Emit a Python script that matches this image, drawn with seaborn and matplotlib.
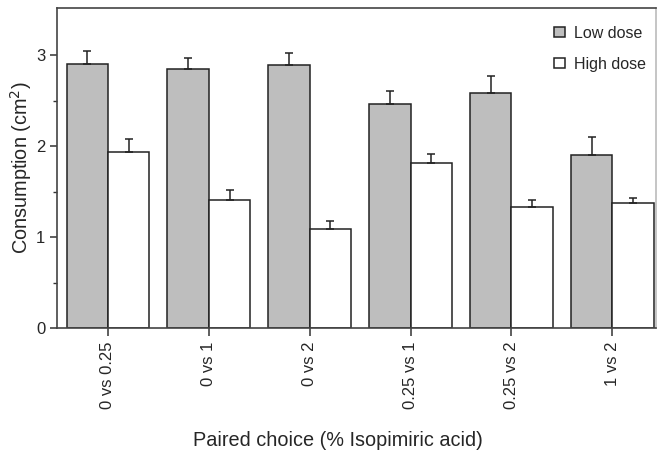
import pandas as pd
import matplotlib
matplotlib.use("Agg")
import matplotlib.pyplot as plt
import seaborn as sns

# values
pairs = ["0 vs 0.25", "0 vs 1", "0 vs 2", "0.25 vs 1", "0.25 vs 2", "1 vs 2"]
low_dose = [2.91, 2.85, 2.89, 2.46, 2.59, 1.90]
low_err = [0.14, 0.12, 0.14, 0.15, 0.18, 0.20]
high_dose = [1.94, 1.41, 1.09, 1.82, 1.33, 1.37]
high_err = [0.14, 0.11, 0.09, 0.09, 0.08, 0.06]
doses = ["Low dose", "High dose"]

df = pd.DataFrame({
    "pair": pairs * 2,
    "value": low_dose + high_dose,
    "dose": [doses[0]] * len(pairs) + [doses[1]] * len(pairs),
})

sns.set_style("ticks")
plt.rcParams["font.family"] = ["Liberation Sans", "DejaVu Sans"]

fig = plt.figure(figsize=(6.58, 4.53), dpi=100)
ax = fig.add_axes([0.0866, 0.276, 0.910, 0.706])

sns.barplot(data=df, x="pair", y="value", hue="dose", order=pairs, hue_order=doses,
            palette=["#bebebe", "white"], edgecolor="#222222", linewidth=1.1,
            width=0.82, errorbar=None, ax=ax)

# one-sided error bars on top of each bar
for cont, errs in zip(ax.containers, [low_err, high_err]):
    for bar, e in zip(cont, errs):
        xc = bar.get_x() + bar.get_width() / 2
        h = bar.get_height()
        ax.errorbar(xc, h, yerr=[[0], [e]], fmt="none", ecolor="#222222",
                    elinewidth=1.1, capsize=3, capthick=1.1)

ax.set_ylim(0, 3.52)
ax.set_xlim(-0.505, 5.43)
ax.set_yticks([0, 1, 2, 3])
ax.set_yticks([0.5, 1.5, 2.5], minor=True)
ax.tick_params(axis="both", which="major", labelsize=12, length=5, width=1.1, color="#333333")
ax.tick_params(axis="y", which="minor", length=3, width=1.0, color="#333333")
ax.tick_params(axis="x", labelrotation=90, length=6)

for s in ax.spines.values():
    s.set_visible(True)
    s.set_linewidth(1.2)
    s.set_color("#444444")
ax.spines["right"].set_color("#bbbbbb")

ax.set_ylabel("Consumption (cm$^2$)", fontsize=14.3, labelpad=1.5)
ax.set_xlabel("Paired choice (% Isopimiric acid)", fontsize=14.3)
ax.xaxis.set_label_coords(0.469, -0.322)

ax.legend(frameon=False, loc="upper right", fontsize=11.5, handlelength=0.65,
          handleheight=0.65, handletextpad=0.6, labelspacing=1.0,
          bbox_to_anchor=(1.008, 0.99))

fig.savefig("out.png", dpi=100)
